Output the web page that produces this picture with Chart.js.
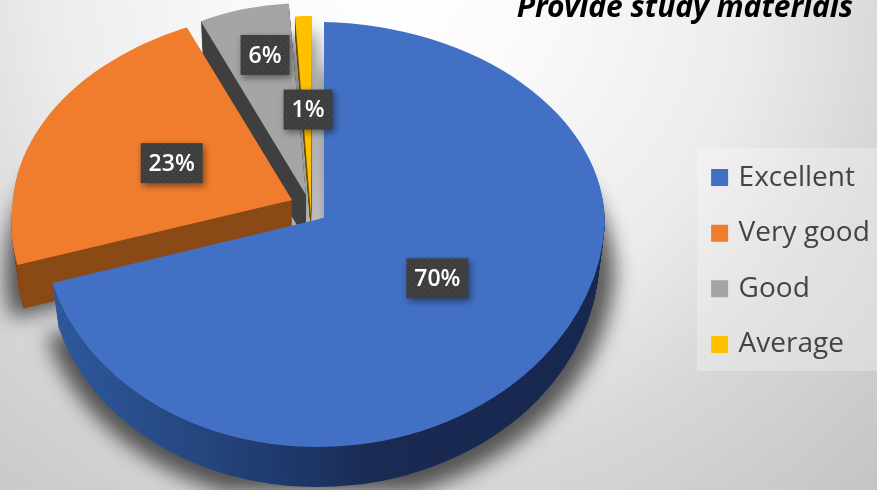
<!DOCTYPE html>
<html><head><meta charset="utf-8">
<style>html,body{margin:0;padding:0;background:#ddd;overflow:hidden}canvas{display:block}</style>
<script src="https://cdn.jsdelivr.net/npm/chart.js@4"></script>
</head><body>
<div style="width:877px;height:490px"><canvas id="c" width="877" height="490"></canvas></div>
<script>
const categories = ["Excellent", "Very good", "Good", "Average"];
const values = [70, 23, 6, 1];
const chartTitle = "Provide study materials";
const colors = ["#4270c4", "#f07d2e", "#a5a5a5", "#ffc000"];
const sideColors = [null, "#8a4a16", "#404040", "#6b5200"];

// Projection of each exploded slice onto the tilted view (page pixels per unit radius).
const views = [
  {ax:324, ay:218, sx:281, kUp:0,  kDown:-14, syUp:196, syDown:229, m:6, depth:45},
  {ax:292, ay:200, sx:279, kUp:-15,kDown:-30, syUp:191, syDown:210, m:0, depth:45},
  {ax:306, ay:195, sx:243, kUp:2,  kDown:2,   syUp:192, syDown:192, m:0, depth:45},
  {ax:311, ay:215, sx:270, kUp:-1, kDown:-1,  syUp:199, syDown:199, m:0, depth:18}
];
const shrink = 0.022;
const labelRadii = [0.49, 0.473, 0.753, 0.53];
const labelShift = [[6, -8], [-2, -1], [6, 0], [1, 0]];
const labelWidths = [62, 62, 49, 49];
const drawOrder = [3, 2, 1, 0];

function withHalf(ctx, el, v, dy, s, upper, fn) {
  const R = el.outerRadius, cx = el.x, cy = el.y;
  ctx.save();
  ctx.translate(v.ax, v.ay + dy);
  ctx.scale(s, s);
  ctx.transform(v.sx / R, v.m / R, (upper ? v.kUp : v.kDown) / R, (upper ? v.syUp : v.syDown) / R, 0, 0);
  ctx.translate(-cx, -cy);
  ctx.beginPath();
  if (upper) ctx.rect(cx - 6 * R, cy - 6 * R, 12 * R, 6 * R + 2);
  else ctx.rect(cx - 6 * R, cy, 12 * R, 6 * R);
  ctx.clip();
  fn();
  ctx.restore();
}
function paint(ctx, el, i, dy, s, color) {
  const saved = el.options;
  el.options = Object.assign({}, saved, {backgroundColor: color, borderWidth: 0});
  for (const upper of [true, false]) {
    withHalf(ctx, el, views[i], dy, s, upper, () => el.draw(ctx));
  }
  el.options = saved;
}
function dotPattern(ctx) {
  const p = document.createElement("canvas"); p.width = 6; p.height = 6;
  const g = p.getContext("2d");
  g.fillStyle = "#3e3e3e"; g.fillRect(0, 0, 6, 6);
  g.fillStyle = "#4c4c4c"; g.fillRect(1, 1, 1.4, 1.4); g.fillRect(4, 4, 1.4, 1.4);
  return ctx.createPattern(p, "repeat");
}

const pie3d = {
  id: "pie3d",
  afterLayout(chart) {
    const t = chart.titleBlock;
    t.left = 300; t.right = 853; t.top = -10; t.bottom = 28;
    const l = chart.legend;
    l.left = 687; l.right = 877; l.top = 61; l.bottom = 461;
  },
  beforeDraw(chart) {
    const ctx = chart.ctx;
    const g = ctx.createRadialGradient(400, -20, 0, 400, -20, 700);
    g.addColorStop(0, "#ffffff"); g.addColorStop(0.2, "#fafafa");
    g.addColorStop(0.5, "#ececec"); g.addColorStop(0.7, "#d8d8d8"); g.addColorStop(1, "#c4c4c4");
    ctx.fillStyle = g; ctx.fillRect(0, 0, 877, 490);
    ctx.fillStyle = "rgba(255,255,255,0.28)"; ctx.fillRect(697, 148, 180, 223);
  },
  beforeDatasetsDraw(chart) {
    const ctx = chart.ctx, arcs = chart.getDatasetMeta(0).data;
    const el0 = arcs[0];
    const side = ctx.createLinearGradient(el0.x - el0.outerRadius, 0, el0.x + el0.outerRadius, 0);
    side.addColorStop(0, "#2f5a9e"); side.addColorStop(0.3, "#25467f");
    side.addColorStop(0.5, "#1d3566"); side.addColorStop(0.62, "#1a2a52"); side.addColorStop(1, "#172850");
    const sideOf = i => i === 0 ? side : sideColors[i];

    const off = document.createElement("canvas"); off.width = 877; off.height = 490;
    const oc = off.getContext("2d");
    drawOrder.forEach(i => paint(oc, arcs[i], i, views[i].depth + 4, 1.028, "#000"));
    ctx.save();
    ctx.filter = "blur(10px)"; ctx.globalAlpha = 0.62;
    ctx.drawImage(off, 2, 2);
    ctx.restore();

    drawOrder.forEach(i => {
      const depth = views[i].depth;
      for (let t = depth; t >= 1; t--) paint(ctx, arcs[i], i, t, 1 - shrink * t / 45, sideOf(i));
      paint(ctx, arcs[i], i, 0, 1, colors[i]);
    });
    const pattern = dotPattern(ctx);
    const H = 40;
    arcs.forEach((el, i) => {
      const v = views[i], mid = (el.startAngle + el.endAngle) / 2, r = labelRadii[i];
      const x = Math.cos(mid) * r, y = Math.sin(mid) * r;
      const px = v.ax + v.sx * x + (y < 0 ? v.kUp : v.kDown) * y + labelShift[i][0];
      const py = v.ay + (y < 0 ? v.syUp : v.syDown) * y + v.m * x + labelShift[i][1];
      ctx.save();
      ctx.shadowColor = "rgba(0,0,0,0.45)"; ctx.shadowBlur = 7; ctx.shadowOffsetX = 2; ctx.shadowOffsetY = 3;
      ctx.fillStyle = pattern;
      ctx.fillRect(px - labelWidths[i] / 2, py - H / 2, labelWidths[i], H);
      ctx.restore();
      ctx.fillStyle = "#ffffff";
      ctx.font = "600 23px 'Open Sans'";
      ctx.textAlign = "center"; ctx.textBaseline = "middle";
      ctx.fillText(values[i] + "%", px, py + 1);
    });
    return false;
  }
};

new Chart(document.getElementById("c"), {
  type: "pie",
  data: {labels: categories, datasets: [{data: values, backgroundColor: colors, borderWidth: 0}]},
  plugins: [pie3d],
  options: {
    responsive: false, animation: false, rotation: 0,
    layout: {padding: 0},
    plugins: {
      tooltip: {enabled: false},
      title: {display: true, text: chartTitle, align: "end", color: "#000",
        padding: 0, font: {family: "'Noto Sans'", size: 30, weight: "700", style: "italic"}},
      legend: {
        position: "right", align: "center",
        labels: {
          font: {family: "'Open Sans'", size: 28}, color: "#444444",
          boxWidth: 10, boxHeight: 10, padding: 27.6,
          generateLabels(chart) {
            return Chart.overrides.doughnut.plugins.legend.labels.generateLabels(chart)
              .map(l => Object.assign(l, {strokeStyle: l.fillStyle, lineWidth: 7}));
          }
        }
      }
    }
  }
});
</script>
</body></html>
